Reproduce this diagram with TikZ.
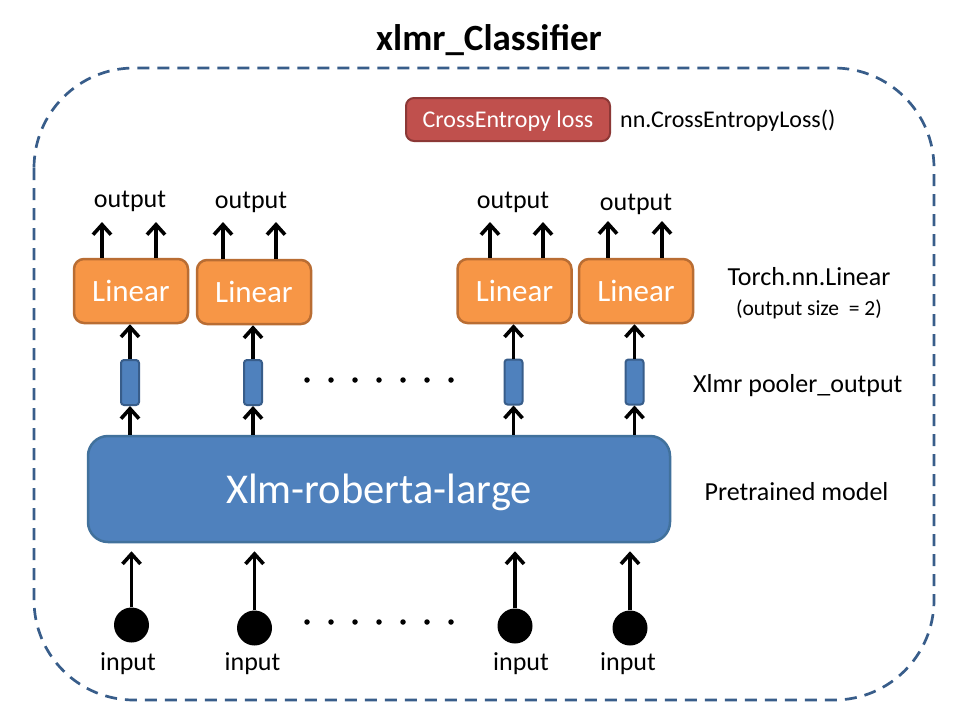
\documentclass[tikz,border=0pt]{standalone}
\usepackage{fontspec}
\setmainfont{Carlito}
\usetikzlibrary{arrows.meta}
\definecolor{orfill}{HTML}{F79646}
\definecolor{orline}{HTML}{B96D33}
\definecolor{blfill}{HTML}{4F81BD}
\definecolor{blline}{HTML}{385D8A}
\definecolor{xlline}{HTML}{41719C}
\definecolor{refill}{HTML}{C0504D}
\definecolor{reline}{HTML}{8C3836}
\definecolor{dashcol}{HTML}{385D8A}
\begin{document}
\begin{tikzpicture}[x=1pt,y=-1pt,
  linbox/.style={draw=orline, fill=orfill, line width=2.5pt, rounded corners=10pt,
    minimum width=114pt, minimum height=64pt, inner sep=0pt, text=white,
    font=\fontsize{31}{36}\selectfont},
  pool/.style={draw=blline, fill=blfill, line width=2pt, rounded corners=3pt,
    minimum width=18pt, minimum height=45pt, inner sep=0pt},
  arr/.style={line width=3.6pt, -{Straight Barb[length=10pt,width=18pt,line width=3.6pt]}},
  lbl/.style={font=\fontsize{26}{31}\selectfont, inner sep=0pt, anchor=base},
  dotnode/.style={circle, fill=black, inner sep=0pt, minimum size=5.5pt},
  inp/.style={circle, fill=black, inner sep=0pt, minimum size=35pt}
]
\useasboundingbox (0,0) rectangle (960,720);
\fill[white] (0,0) rectangle (960,720);

% outer dashed frame
\draw[dashcol, line width=2.7pt, dash pattern=on 12pt off 8pt, rounded corners=100pt]
  (34,68) rectangle (934,700);

% title
\node[font=\bfseries\fontsize{37}{44}\selectfont, inner sep=0pt, anchor=base] (title) at (489,50) {xlmr\_Classifier};

% cross entropy
\node[draw=reline, fill=refill, line width=2pt, rounded corners=8pt, minimum width=204pt,
  minimum height=43pt, inner sep=0pt, text=white, text depth=0pt,
  font=\fontsize{24}{29}\selectfont] (ce) at (508,119.5) {CrossEntropy loss};
\node[font=\fontsize{24}{29}\selectfont, inner sep=0pt, anchor=base west] (cel) at (620,127) {nn.CrossEntropyLoss()};

% linear boxes
\node[linbox] (l1) at (131,291) {Linear};
\node[linbox] (l2) at (254,292) {Linear};
\node[linbox] (l3) at (514.5,291) {Linear};
\node[linbox] (l4) at (636,291) {Linear};

% output labels
\node[lbl] (ol1) at (130,207) {output};
\node[lbl] (ol2) at (251,208) {output};
\node[lbl] (ol3) at (513,208) {output};
\node[lbl] (ol4) at (636,210) {output};

% output arrow tips
\coordinate (o1a) at (102,222);
\coordinate (o1b) at (156,222);
\coordinate (o2a) at (223,222);
\coordinate (o2b) at (276,222);
\coordinate (o3a) at (490,222);
\coordinate (o3b) at (543,222);
\coordinate (o4a) at (608,221);
\coordinate (o4b) at (662,221);
\foreach \b/\t in {l1/o1a,l1/o1b,l2/o2a,l2/o2b,l3/o3a,l3/o3b,l4/o4a,l4/o4b}
  \draw[arr] (\b.north -| \t) -- (\t);

% pooler outputs
\node[pool] (p1) at (130,382.5) {};
\node[pool] (p2) at (253,382.5) {};
\node[pool] (p3) at (513.5,382) {};
\node[pool] (p4) at (634.5,382) {};

% Xlm box
\node[draw=xlline, fill=blfill, line width=2.5pt, rounded corners=20pt, minimum width=582pt,
  minimum height=106pt, inner sep=0pt, text=white, text depth=0pt,
  font=\fontsize{42.5}{50}\selectfont] (xlm) at (379,489) {Xlm-roberta-large};

% arrows pooler -> linear, xlm -> pooler
\foreach \p/\l in {p1/l1,p2/l2,p3/l3,p4/l4}{
  \draw[arr] (\p.north) -- (\l.south -| \p);
  \draw[arr] (xlm.north -| \p) -- (\p.south);
}

% dots
\foreach \i in {0,...,6}{
  \node[dotnode] (td\i) at (307+24*\i,380) {};
  \node[dotnode] (bd\i) at (307+24*\i,622) {};
}

% inputs
\node[inp] (c1) at (131.5,625) {};
\node[inp] (c2) at (254.5,628) {};
\node[inp] (c3) at (515,626) {};
\node[inp] (c4) at (630,628) {};
\foreach \c in {c1,c2,c3,c4}
  \draw[arr, shorten >=8pt] (\c.north) -- (xlm.south -| \c);

\node[lbl] (il1) at (128,670) {input};
\node[lbl] (il2) at (252.5,670) {input};
\node[lbl] (il3) at (521,670) {input};
\node[lbl] (il4) at (628,670) {input};

% right labels
\node[lbl] (tl1) at (809,285) {Torch.nn.Linear};
\node[lbl, font=\fontsize{21.5}{26}\selectfont] (tl2) at (809,315) {(output size\ \ = 2)};
\node[lbl, anchor=base west] (pl) at (693,392) {Xlmr pooler\_output};
\node[lbl] (prl) at (796.5,500) {Pretrained model};
\end{tikzpicture}
\end{document}
